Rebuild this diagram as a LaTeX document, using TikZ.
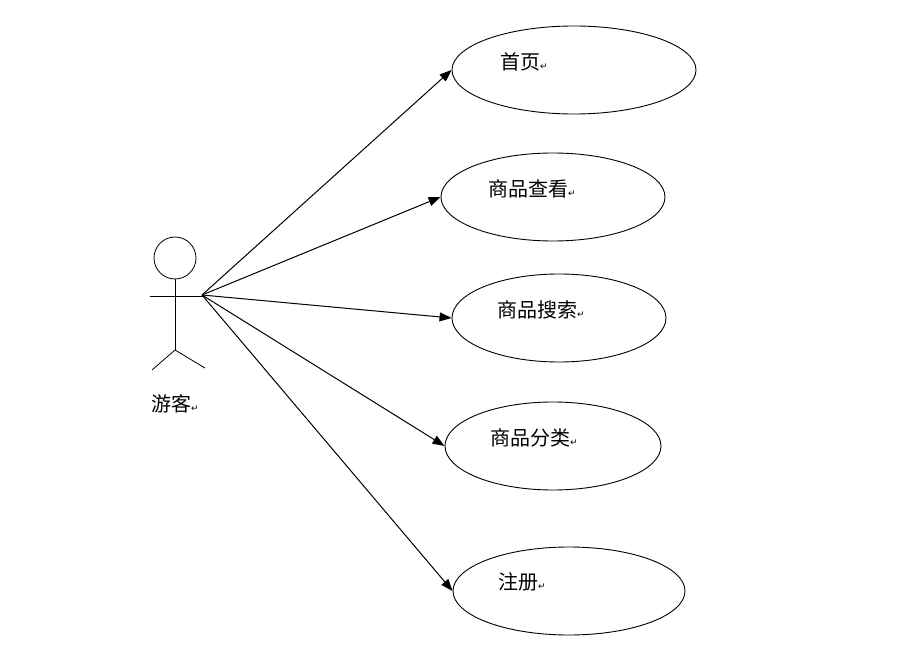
\documentclass[tikz,border=0pt]{standalone}
\usepackage{fontspec}
\newfontfamily\cjk{Noto Sans CJK SC}
\newfontfamily\sym{DejaVu Sans}
\usetikzlibrary{shapes.geometric,arrows.meta}
\newcommand{\ret}{{\sym\fontsize{9}{9}\selectfont ↵}}
\tikzset{
  uc/.style={draw,ellipse,line width=0.9pt,inner sep=0pt},
  lab/.style={font=\cjk\fontsize{20}{24}\selectfont,anchor=west,inner sep=0pt},
  assoc/.style={line width=1pt,-{Triangle[length=12pt,width=9pt]}},
  fig/.style={line width=0.8pt}
}
\begin{document}
\begin{tikzpicture}[x=1pt,y=-1pt]
\useasboundingbox (0,0) rectangle (903,660);
\node[uc,minimum width=244,minimum height=88] (e1) at (574,70) {};
\node[uc,minimum width=224,minimum height=88] (e2) at (553,197) {};
\node[uc,minimum width=214,minimum height=88] (e3) at (559,318) {};
\node[uc,minimum width=216,minimum height=88] (e4) at (553,446) {};
\node[uc,minimum width=232,minimum height=88] (e5) at (569,591) {};
\node[lab] (t1) at (500,62) {首页\ret};
\node[lab] (t2) at (488,189) {商品查看\ret};
\node[lab] (t3) at (497,310) {商品搜索\ret};
\node[lab] (t4) at (490,438) {商品分类\ret};
\node[lab] (t5) at (498,582) {注册\ret};
% actor
\draw[fig] (175,258) circle (21);
\coordinate (neck) at (175,279);
\coordinate (hip) at (175,350);
\coordinate (la) at (150,296);
\coordinate (ra) at (205,296);
\coordinate (ll) at (152,370);
\coordinate (rl) at (205,368);
\coordinate (a) at (202,295);
\draw[fig] (neck) -- (hip);
\draw[fig] (la) -- (ra);
\draw[fig] (ll) -- (hip) -- (rl);
\node[lab,anchor=center] (actor) at (175,404) {游客\ret};
\foreach \e in {e1,e2,e3,e4,e5} \draw[assoc] (a) -- (\e.west);
\end{tikzpicture}
\end{document}
